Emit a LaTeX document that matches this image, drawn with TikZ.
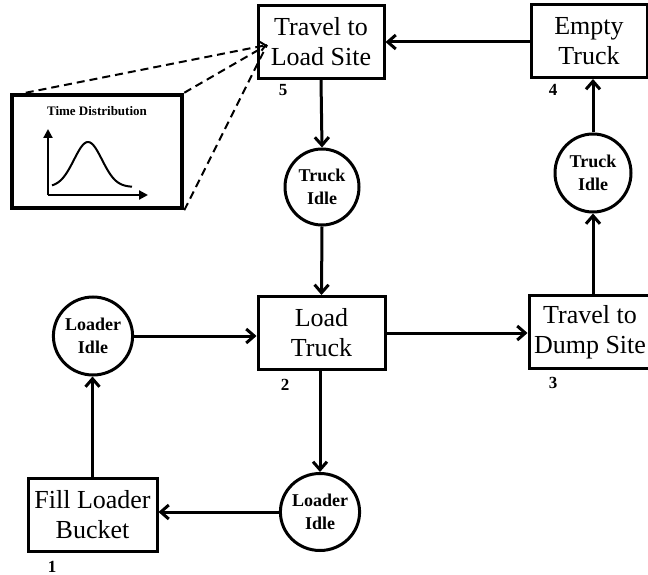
\documentclass[tikz,border=0pt]{standalone}
\usepackage{fontspec}
\setmainfont{Liberation Serif}
\usetikzlibrary{arrows.meta,shapes.geometric}
\begin{document}
\begin{tikzpicture}[x=1pt,y=-1pt,
  activity/.style={draw, line width=3pt, minimum height=73pt, inner sep=0pt,
    align=center, font=\fontsize{26}{30}\selectfont},
  queue/.style={draw, ellipse, line width=3pt, inner sep=0pt, align=center,
    font=\fontsize{18}{23}\selectfont\bfseries},
  numlabel/.style={inner sep=0pt, font=\fontsize{17}{17}\selectfont\bfseries},
  flow/.style={line width=3pt, -{Straight Barb[length=8pt,width=14pt]}},
  zoomline/.style={line width=2pt, dash pattern=on 8pt off 5pt},
  axis/.style={line width=2.2pt, -{Triangle[length=9pt,width=9pt]}}
]
\useasboundingbox (0,0) rectangle (648,575);

% activities
\node[activity, minimum width=126pt] (tls) at (321,42) {Travel to\\Load Site};
\node[activity, minimum width=116pt] (et)  at (589,41) {Empty\\Truck};
\node[activity, minimum width=127pt] (lt)  at (321.5,333) {Load\\Truck};
\node[activity, minimum width=122pt] (tds) at (590,332) {Travel to\\Dump Site};
\node[activity, minimum width=129pt] (flb) at (92.5,515) {Fill Loader\\Bucket};

% queues
\node[queue, minimum width=74pt, minimum height=76pt] (ti1) at (322,187) {Truck\\Idle};
\node[queue, minimum width=76pt, minimum height=78pt] (ti2) at (593,173) {Truck\\Idle};
\node[queue, minimum width=73pt, minimum height=78pt] (li1) at (93,336) {Loader\\Idle};
\node[queue, minimum width=68pt, minimum height=77pt] (li2) at (320,512) {Loader\\Idle};

% activity numbers
\node[numlabel] (n1) at (52,567) {1};
\node[numlabel] (n2) at (285,385) {2};
\node[numlabel] (n3) at (553,383) {3};
\node[numlabel] (n4) at (553,90) {4};
\node[numlabel] (n5) at (283,90) {5};

% flow of the cycle
\draw[flow] (et.west |- tls.east) -- (tls.east);
\draw[flow] (tls.south) -- (ti1.north);
\draw[flow] (ti1.south) -- (lt.north);
\draw[flow] (li1.east) -- (li1.east -| lt.west);
\draw[flow] (lt.east) -- (lt.east -| tds.west);
\draw[flow] (ti2.south |- tds.north) -- (ti2.south);
\draw[flow] (ti2.north) -- (ti2.north |- et.south);
\draw[flow] (lt.south -| li2.north) -- (li2.north);
\draw[flow] (li2.west) -- (li2.west -| flb.east);
\draw[flow] (flb.north) -- (flb.north |- li1.south);

% duration distribution inset
\node[draw, line width=4.5pt, minimum width=170pt, minimum height=113pt, inner sep=0pt] (dist) at (97,151.5) {};
\node[inner sep=0pt, font=\fontsize{13}{14}\selectfont\bfseries] (disttitle) at (97,111) {Time Distribution};
\coordinate (orig) at (48,195);
\draw[axis] (orig) -- (48,129);
\draw[axis] (orig) -- (148,195);
\draw[line width=2pt, domain=52:132, samples=60, smooth]
  plot (\x, {187 - 45*exp(-((\x-88)^2)/392)});

% dashed zoom lines to the activity
\coordinate (zt) at (267,45);
\draw[zoomline, -{Straight Barb[length=5pt,width=9pt]}] (dist.north west) ++(16,0) -- (zt);
\draw[zoomline] (dist.north east) -- (zt);
\draw[zoomline] (dist.south east) -- (zt);
\end{tikzpicture}
\end{document}
